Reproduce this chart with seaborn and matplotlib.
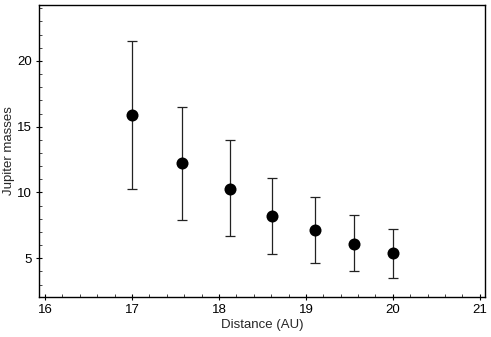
import numpy as np
import pandas as pd
import matplotlib
matplotlib.use("Agg")
import matplotlib.pyplot as plt
from matplotlib.ticker import MultipleLocator
import seaborn as sns

# values
distance = [17.0, 17.58, 18.13, 18.61, 19.11, 19.55, 20.0]
mass = [15.89, 12.22, 10.30, 8.23, 7.12, 6.11, 5.36]
mass_upper = [21.49, 16.52, 13.96, 11.11, 9.62, 8.31, 7.22]
mass_lower = [10.28, 7.90, 6.67, 5.30, 4.62, 3.99, 3.51]

x_ticks = [16, 17, 18, 19, 20, 21]
y_ticks = [5, 10, 15, 20]

sns.set_style("ticks")
plt.rcParams["font.family"] = ["Liberation Sans", "DejaVu Sans"]

df = pd.DataFrame({"distance": distance, "mass": mass,
                   "upper": mass_upper, "lower": mass_lower})

fig = plt.figure(figsize=(4.91, 3.37), dpi=100)
ax = fig.add_axes([0.0794, 0.1187, 0.9084, 0.8663])

# asymmetric error bars
yerr = np.array([df["mass"] - df["lower"], df["upper"] - df["mass"]])
ax.errorbar(df["distance"], df["mass"], yerr=yerr, fmt="none",
            ecolor="#222222", elinewidth=0.9, capsize=3.6, capthick=0.9, zorder=2)
sns.scatterplot(data=df, x="distance", y="mass", ax=ax, s=75,
                color="black", edgecolor="black", linewidth=0, zorder=3)

ax.set_xlim(15.93, 21.06)
ax.set_ylim(2.05, 24.25)
ax.set_xticks(x_ticks)
ax.set_yticks(y_ticks)
ax.xaxis.set_minor_locator(MultipleLocator(0.2))
ax.yaxis.set_minor_locator(MultipleLocator(1))
ax.tick_params(which="major", direction="inout", length=5, width=0.8,
               labelsize=9.5, colors="black", pad=2.5)
ax.tick_params(which="minor", direction="in", length=2.5, width=0.6)

for s in ax.spines.values():
    s.set_linewidth(1.0)
    s.set_color("black")

ax.set_xlabel("Distance (AU)", fontsize=9.5, labelpad=2.5)
ax.set_ylabel("Jupiter masses", fontsize=9.5, labelpad=1.5)

fig.savefig("out.png", dpi=100)
